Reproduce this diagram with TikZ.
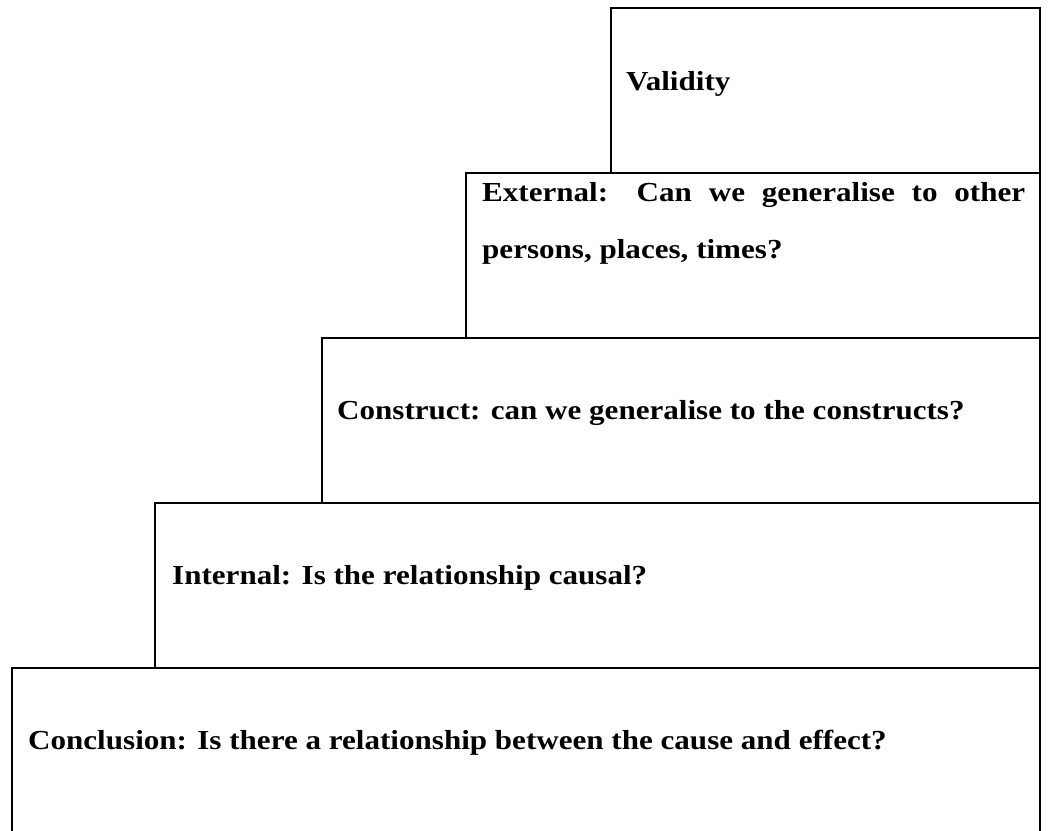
\documentclass[tikz,border=0pt]{standalone}
\usepackage{fontspec}
\setmainfont{Liberation Serif}[FakeStretch=1.13]
\begin{document}
\begin{tikzpicture}[x=1pt,y=-1pt,
  stepbox/.style={draw=black,line width=1.2pt},
  lbl/.style={anchor=base west,inner sep=0pt,font=\fontsize{27.5}{33}\selectfont\bfseries}]
\useasboundingbox (0,0) rectangle (1048,830);
% boxes
\draw[stepbox] (611,8) rectangle (1040,173);
\draw[stepbox] (466,173) rectangle (1040,338);
\draw[stepbox] (322,338) rectangle (1040,503);
\draw[stepbox] (155,503) rectangle (1040,668);
\draw[stepbox] (12,834) -- (12,668) -- (1040,668) -- (1040,834);
% texts
\node[lbl] (val) at (626,90) {Validity};
\node[lbl] (ext1) at (482,201) {\makebox[543pt][s]{External: Can we generalise to other}};
\node[lbl] (ext2) at (482,258) {persons, places, times?};
\node[lbl] (con) at (337,419) {Construct: can we generalise to the constructs?};
\node[lbl] (int) at (172,584) {Internal: Is the relationship causal?};
\node[lbl] (concl) at (28,749) {Conclusion: Is there a relationship between the cause and effect?};
\end{tikzpicture}
\end{document}
